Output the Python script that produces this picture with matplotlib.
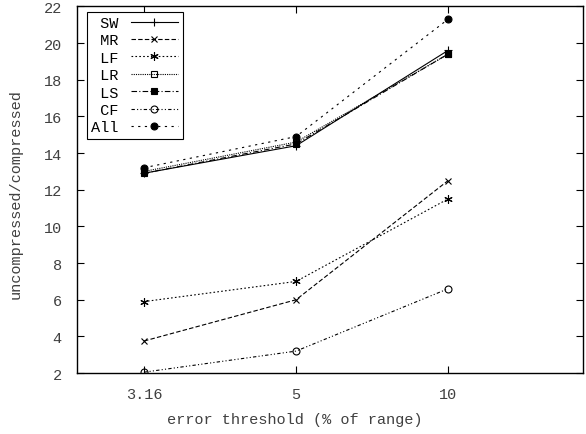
import matplotlib
matplotlib.use('Agg')
from matplotlib import pyplot as plt

plt.rcParams['font.family'] = ['Liberation Mono', 'DejaVu Sans Mono']
plt.rcParams['font.size'] = 11

thresholds = ['3.16', '5', '10']
labels = ['SW', 'MR', 'LF', 'LR', 'LS', 'CF', 'All']
sw = [12.9, 14.4, 19.6]
mr = [3.75, 6.0, 12.5]
lf = [5.9, 7.0, 11.5]
lr = [13.0, 14.6, 19.4]
ls_ = [12.9, 14.5, 19.4]
cf = [2.05, 3.2, 6.6]
all_ = [13.2, 14.9, 21.3]

series = [sw, mr, lf, lr, ls_, cf, all_]
styles = [
    dict(ls='-', marker='+', ms=6, mfc='none'),
    dict(ls=(0, (4, 2)), marker='x', ms=5, mfc='none'),
    dict(ls=(0, (1.5, 2)), marker=(6, 2, 0), ms=6, mfc='none'),
    dict(ls=(0, (1, 1)), marker='s', ms=5, mfc='none'),
    dict(ls=(0, (5, 2, 1, 2)), marker='s', ms=5, mfc='k'),
    dict(ls=(0, (3, 2, 1, 2, 1, 2)), marker='o', ms=5, mfc='none'),
    dict(ls=(0, (2, 4)), marker='o', ms=5, mfc='k'),
]

fig = plt.figure(figsize=(5.86, 4.35), dpi=100)
ax = fig.add_axes([0.1314, 0.140, 0.8636, 0.843])

# labels right-aligned as in the original legend (monospace font)
width = max(len(l) for l in labels)
xs = list(range(1, len(thresholds) + 1))
for vals, lab, st in zip(series, labels, styles):
    ax.plot(xs, vals, color='k', lw=0.8, mew=0.8, label=lab.rjust(width), **st)

ax.set_xlim(0.559, 3.888)
ax.set_ylim(2, 22)
ax.set_xticks(xs)
ax.set_xticklabels(thresholds)
ax.set_yticks(range(2, 23, 2))
ax.tick_params(direction='in', top=True, right=True, length=5, width=0.8,
               labelcolor='#404040')
ax.tick_params(axis='y', pad=11)
ax.tick_params(axis='x', pad=10)
for s in ax.spines.values():
    s.set_linewidth(1.0)

ax.set_xlabel('error threshold (% of range)', color='#404040')
ax.set_ylabel('uncompressed/compressed', color='#404040')
ax.xaxis.set_label_coords(0.431, -0.106)
ax.yaxis.set_label_coords(-0.107, 0.49)

leg = ax.legend(loc='upper left', markerfirst=False, handlelength=3.1,
                fancybox=False, framealpha=1, edgecolor='k',
                bbox_to_anchor=(0.019, 0.986), borderaxespad=0,
                labelspacing=0.22, handletextpad=0.8, borderpad=0.3,
                prop={'size': 11})
leg.get_frame().set_linewidth(0.8)

plt.savefig('out.png', dpi=100)
plt.close()
